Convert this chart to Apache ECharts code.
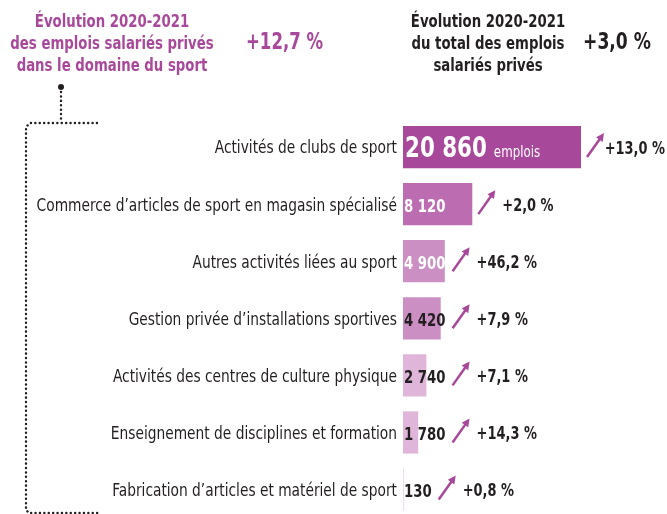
<!DOCTYPE html>
<html>
<head>
<meta charset="utf-8">
<script src="https://cdn.jsdelivr.net/npm/echarts@6/dist/echarts.min.js"></script>
<style>
html, body { margin: 0; padding: 0; background: #ffffff; }
#chart { width: 667px; height: 514px; }
</style>
</head>
<body>
<div id="chart"></div>
<script>
const categories = [
    "Activités de clubs de sport",
    "Commerce d’articles de sport en magasin spécialisé",
    "Autres activités liées au sport",
    "Gestion privée d’installations sportives",
    "Activités des centres de culture physique",
    "Enseignement de disciplines et formation",
    "Fabrication d’articles et matériel de sport"
];
const jobs = [20860, 8120, 4900, 4420, 2740, 1780, 130];
const jobLabels = ["20 860", "8 120", "4 900", "4 420", "2 740", "1 780", "130"];
const changes = ["+13,0 %", "+2,0 %", "+46,2 %", "+7,9 %", "+7,1 %", "+14,3 %", "+0,8 %"];

const sportTitle = ["Évolution 2020-2021", "des emplois salariés privés", "dans le domaine du sport"];
const sportChange = "+12,7 %";
const totalTitle = ["Évolution 2020-2021", "du total des emplois", "salariés privés"];
const totalChange = "+3,0 %";

// no narrow Helvetica here, so the condensed DejaVu gets squeezed a bit more
const FONT = '"DejaVu Sans Condensed", "DejaVu Sans", sans-serif';
const BOLD_SCALE = 0.82;
const PCT_SCALE = 0.8;
const REGULAR_SCALE = 0.9;
const DARK = "#231f20";
const PURPLE = "#a8489a";
const BAR_COLORS = ["#a8489a", "#bc6cb0", "#cb8fc3", "#cb8fc3", "#dfb6da", "#dfb6da", "#efdcec"];
const LABEL_COLORS = ["#ffffff", "#ffffff", "#ffffff", DARK, DARK, DARK, DARK];

const BIG_FONT = `bold 29px ${FONT}`;
const UNIT_FONT = `16px ${FONT}`;
const VALUE_FONT = `bold 18px ${FONT}`;
const CATEGORY_FONT = `17px ${FONT}`;
const CHART_WIDTH = 667;

const measureCtx = document.createElement("canvas").getContext("2d");

function textWidth(text, font) {
    measureCtx.font = font;
    return measureCtx.measureText(text).width;
}

function bigLabelWidth() {
    return textWidth(jobLabels[0], BIG_FONT) * BOLD_SCALE + 7;
}

function valueLabelWidth(i) {
    if (i === 0) {
        return bigLabelWidth() + textWidth("emplois", UNIT_FONT) * BOLD_SCALE;
    }
    return textWidth(jobLabels[i], VALUE_FONT) * BOLD_SCALE;
}

function squeezedText(x, y, text, font, color, align, scale) {
    return {
        type: "text",
        x: x,
        y: y,
        scaleX: scale,
        z2: 10,
        style: {
            text: text,
            x: 0,
            y: 0,
            align: align,
            verticalAlign: "middle",
            fill: color,
            font: font
        }
    };
}

function renderRow(params, api) {
    const i = params.dataIndex;
    const end = api.coord([api.value(0), api.value(1)]);
    const start = api.coord([0, api.value(1)]);
    const y = end[1];
    const children = [];

    children.push(squeezedText(start[0] - 6, y + 2, categories[i], CATEGORY_FONT, DARK, "right", REGULAR_SCALE));

    if (i === 0) {
        children.push(squeezedText(start[0] + 2, y + 2, jobLabels[0], BIG_FONT, LABEL_COLORS[0], "left", BOLD_SCALE));
        children.push(squeezedText(start[0] + 2 + bigLabelWidth(), y + 6, "emplois", UNIT_FONT, LABEL_COLORS[0], "left", BOLD_SCALE));
    } else {
        children.push(squeezedText(start[0] + 1, y + 3, jobLabels[i], VALUE_FONT, LABEL_COLORS[i], "left", BOLD_SCALE));
    }

    const x0 = Math.max(end[0], start[0] + 2 + valueLabelWidth(i)) + 6;
    const tip = [x0 + 17, y - 14];
    const tail = [x0, y + 10];
    const dx = tip[0] - tail[0];
    const dy = tip[1] - tail[1];
    const len = Math.sqrt(dx * dx + dy * dy);
    const ux = dx / len;
    const uy = dy / len;
    const baseX = tip[0] - ux * 8;
    const baseY = tip[1] - uy * 8;

    children.push({
        type: "line",
        shape: { x1: tail[0], y1: tail[1], x2: baseX + ux * 2, y2: baseY + uy * 2 },
        style: { stroke: PURPLE, lineWidth: 2.5 }
    });
    children.push({
        type: "polygon",
        shape: {
            points: [
                tip,
                [baseX - uy * 4, baseY + ux * 4],
                [baseX + uy * 4, baseY - ux * 4]
            ]
        },
        style: { fill: PURPLE }
    });

    // keep the percentage inside the page when the bar is long
    const pctW = textWidth(changes[i], VALUE_FONT) * PCT_SCALE;
    const pctX = Math.min(tip[0] + 7, CHART_WIDTH - 2 - pctW);
    children.push(squeezedText(pctX, y + 2, changes[i], VALUE_FONT, DARK, "left", PCT_SCALE));

    return { type: "group", children: children };
}

const chart = echarts.init(document.getElementById("chart"));

chart.setOption({
    animation: false,
    grid: {
        left: 403,
        width: 256,
        top: 118.5,
        height: 399.6,
        containLabel: false,
        outerBoundsMode: "none"
    },
    xAxis: {
        type: "value",
        min: 0,
        max: 30000,
        show: false
    },
    yAxis: {
        type: "category",
        data: categories,
        inverse: true,
        axisLine: { show: false },
        axisTick: { show: false },
        axisLabel: { show: false }
    },
    series: [
        {
            type: "bar",
            z: 2,
            data: jobs.map((value, i) => ({
                value: value,
                itemStyle: { color: BAR_COLORS[i] }
            })),
            barCategoryGap: "26%"
        },
        {
            type: "custom",
            z: 10,
            data: jobs.map((value, i) => [value, i]),
            encode: { x: 0, y: 1 },
            clip: false,
            silent: true,
            renderItem: renderRow
        }
    ],
    graphic: [
        {
            type: "text",
            x: 112, y: 11,
            scaleX: BOLD_SCALE,
            style: {
                text: sportTitle.join("\n"),
                fill: PURPLE,
                font: `bold 18px ${FONT}`,
                lineHeight: 22,
                align: "center"
            }
        },
        {
            type: "text",
            x: 246, y: 43,
            scaleX: 0.8,
            style: {
                text: sportChange,
                fill: PURPLE,
                font: `bold 23px ${FONT}`,
                verticalAlign: "middle"
            }
        },
        {
            type: "text",
            x: 488, y: 11,
            scaleX: BOLD_SCALE,
            style: {
                text: totalTitle.join("\n"),
                fill: DARK,
                font: `bold 18px ${FONT}`,
                lineHeight: 22,
                align: "center"
            }
        },
        {
            type: "text",
            x: 583, y: 43,
            scaleX: 0.83,
            style: {
                text: totalChange,
                fill: DARK,
                font: `bold 23px ${FONT}`,
                verticalAlign: "middle"
            }
        },
        {
            type: "circle",
            shape: { cx: 61, cy: 87, r: 3 },
            style: { fill: DARK }
        },
        {
            type: "polyline",
            shape: { points: [[61, 92], [61, 120]] },
            style: { stroke: DARK, lineWidth: 2.4, lineDash: [0.1, 4.3], lineCap: "round" }
        },
        {
            type: "polyline",
            shape: { points: [[97, 123], [30, 123], [26, 127], [26, 510], [29, 513], [100, 513]] },
            style: { stroke: DARK, lineWidth: 2.4, lineDash: [0.1, 4.3], lineCap: "round", fill: null }
        }
    ]
});
</script>
</body>
</html>
